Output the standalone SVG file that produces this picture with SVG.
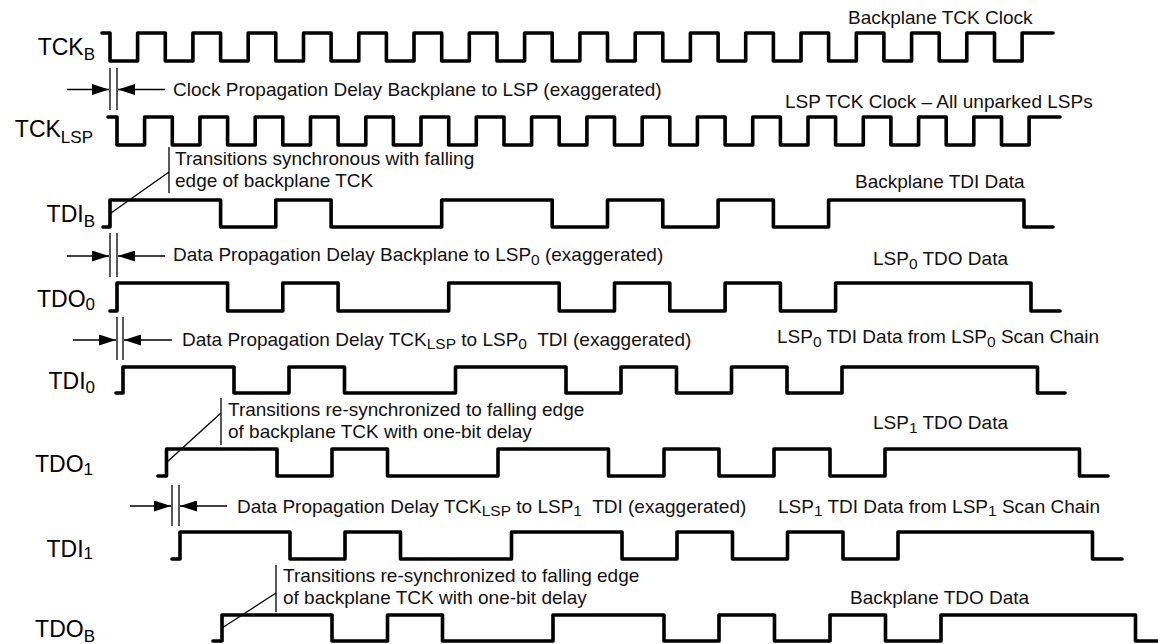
<svg xmlns="http://www.w3.org/2000/svg" width="1158" height="644" viewBox="0 0 1158 644">
<style>
.w{fill:none;stroke:#000;stroke-width:3.6;stroke-linejoin:round;stroke-linecap:round}
.a{fill:none;stroke:#000;stroke-width:1.3}
.lbl{font-family:"Liberation Sans",Arial,sans-serif;font-size:23px;fill:#000;text-anchor:end}
.t{font-family:"Liberation Sans",Arial,sans-serif;font-size:19px;fill:#111}
.s{font-size:15.5px}
.ls{font-size:17px}
</style>
<defs>
<marker id="ah" viewBox="0 0 17 11" refX="17" refY="5.5" markerWidth="17" markerHeight="11" markerUnits="userSpaceOnUse" orient="auto">
<path d="M0,0 L17,5.5 L0,11 Z" fill="#000"/>
</marker>
</defs>
<rect width="1158" height="644" fill="#fff"/>

<g id="tckb">
<path class="w" d="M102,33 H110 V61 H137.6 V33 H165.3 V61 H192.9 V33 H220.6 V61 H248.2 V33 H275.8 V61 H303.5 V33 H331.1 V61 H358.8 V33 H386.4 V61 H414 V33 H441.7 V61 H469.3 V33 H497 V61 H524.6 V33 H552.2 V61 H579.9 V33 H607.5 V61 H635.2 V33 H662.8 V61 H690.4 V33 H718.1 V61 H745.7 V33 H773.4 V61 H801 V33 H828.6 V61 H856.3 V33 H883.9 V61 H911.6 V33 H939.2 V61 H966.8 V33 H994.5 V61 H1022.1 V33 H1053"/>
<text class="lbl" x="95" y="55">TCK<tspan class="ls" dy="5">B</tspan></text>
<text class="t" x="848" y="23.5">Backplane TCK Clock</text>
</g>

<g id="tcklsp">
<path class="w" d="M108,117 H117 V145 H144.6 V117 H172.3 V145 H199.9 V117 H227.6 V145 H255.2 V117 H282.8 V145 H310.5 V117 H338.1 V145 H365.8 V117 H393.4 V145 H421 V117 H448.7 V145 H476.3 V117 H504 V145 H531.6 V117 H559.2 V145 H586.9 V117 H614.5 V145 H642.2 V117 H669.8 V145 H697.4 V117 H725.1 V145 H752.7 V117 H780.4 V145 H808 V117 H835.6 V145 H863.3 V117 H890.9 V145 H918.6 V117 H946.2 V145 H973.8 V117 H1001.5 V145 H1029.1 V117 H1060"/>
<text class="lbl" x="93" y="137">TCK<tspan class="ls" dy="6">LSP</tspan></text>
<text class="t" x="785" y="108">LSP TCK Clock – All unparked LSPs</text>
</g>

<g id="tdib">
<path class="w" d="M103,227 H110 V200 H220.6 V227 H275.8 V200 H331.1 V227 H441.7 V200 H552.2 V227 H607.5 V200 H662.8 V227 H718.1 V200 H773.4 V227 H828.6 V200 H1024 V227 H1053"/>
<text class="lbl" x="95" y="222">TDI<tspan class="ls" dy="4.5">B</tspan></text>
<text class="t" x="855" y="188">Backplane TDI Data</text>
</g>

<g id="tdo0">
<path class="w" d="M110,311 H117 V283 H227.6 V311 H282.8 V283 H338.1 V311 H448.7 V283 H559.2 V311 H614.5 V283 H669.8 V311 H725.1 V283 H780.4 V311 H835.6 V283 H1031 V311 H1060"/>
<text class="lbl" x="95" y="306.5">TDO<tspan class="ls" dy="3.5">0</tspan></text>
<text class="t" x="873" y="265">LSP<tspan class="s" dy="3.5">0</tspan><tspan dy="-3.5"> TDO Data</tspan></text>
</g>

<g id="tdi0">
<path class="w" d="M116,393 H123 V367 H234 V393 H289 V367 H344.5 V393 H455.5 V367 H566 V393 H621 V367 H676.5 V393 H731.5 V367 H787 V393 H842 V367 H1037.5 V393 H1065"/>
<text class="lbl" x="95" y="389">TDI<tspan class="ls" dy="3.5">0</tspan></text>
<text class="t" x="777" y="343">LSP<tspan class="s" dy="3.5">0</tspan><tspan dy="-3.5"> TDI Data from LSP</tspan><tspan class="s" dy="3.5">0</tspan><tspan dy="-3.5"> Scan Chain</tspan></text>
</g>

<g id="tdo1">
<path class="w" d="M158,476 H166.5 V449 H277 V476 H332 V449 H387.5 V476 H498 V449 H608.5 V476 H664 V449 H719 V476 H774 V449 H830 V476 H885 V449 H1079.5 V476 H1108"/>
<text class="lbl" x="93" y="472">TDO<tspan class="ls" dy="3">1</tspan></text>
<text class="t" x="873" y="429">LSP<tspan class="s" dy="3.5">1</tspan><tspan dy="-3.5"> TDO Data</tspan></text>
</g>

<g id="tdi1">
<path class="w" d="M172,559 H180 V532 H290 V559 H345 V532 H400.5 V559 H511.5 V532 H622 V559 H677 V532 H732.5 V559 H787.5 V532 H843 V559 H898 V532 H1092.5 V559 H1122"/>
<text class="lbl" x="93" y="556.5">TDI<tspan class="ls" dy="2">1</tspan></text>
<text class="t" x="778" y="512.5">LSP<tspan class="s" dy="3.5">1</tspan><tspan dy="-3.5"> TDI Data from LSP</tspan><tspan class="s" dy="3.5">1</tspan><tspan dy="-3.5"> Scan Chain</tspan></text>
</g>

<g id="tdob">
<path class="w" d="M213,641 H222 V615 H332 V641 H387.5 V615 H442.5 V641 H553 V615 H664 V641 H719 V615 H774.5 V641 H830 V615 H885.5 V641 H941 V615 H1135.5 V641 H1160"/>
<text class="lbl" x="95" y="636.5">TDO<tspan class="ls" dy="5">B</tspan></text>
<text class="t" x="850" y="604">Backplane TDO Data</text>
</g>

<g id="connectors">
<path class="a" d="M110,68 V110 M117,68 V110"/>
<path class="a" d="M67,89.5 H109" marker-end="url(#ah)"/>
<path class="a" d="M165,89.5 H118" marker-end="url(#ah)"/>
<text class="t" x="173" y="95.5">Clock Propagation Delay Backplane to LSP (exaggerated)</text>
<path class="a" d="M169,147 V193 M169,172 L111,213"/>
<text class="t" x="175" y="165">Transitions synchronous with falling</text>
<text class="t" x="175" y="187">edge of backplane TCK</text>
<path class="a" d="M110,233 V277 M117,233 V277"/>
<path class="a" d="M67,256 H109" marker-end="url(#ah)"/>
<path class="a" d="M165,256 H118" marker-end="url(#ah)"/>
<text class="t" x="173" y="261">Data Propagation Delay Backplane to LSP<tspan class="s" dy="3.5">0</tspan><tspan dy="-3.5"> (exaggerated)</tspan></text>
<path class="a" d="M117,317 V360 M123,317 V360"/>
<path class="a" d="M73,340 H116" marker-end="url(#ah)"/>
<path class="a" d="M172,340 H124" marker-end="url(#ah)"/>
<text class="t" x="182" y="345.5" xml:space="preserve">Data Propagation Delay TCK<tspan class="s" dy="3.5">LSP</tspan><tspan dy="-3.5"> to LSP</tspan><tspan class="s" dy="3.5">0</tspan><tspan dy="-3.5">  TDI (exaggerated)</tspan></text>
<path class="a" d="M221,398 V445 M221,413 L167,462"/>
<text class="t" x="228" y="416">Transitions re-synchronized to falling edge</text>
<text class="t" x="228" y="438">of backplane TCK with one-bit delay</text>
<path class="a" d="M172,485 V526 M179,485 V526"/>
<path class="a" d="M130,506 H171" marker-end="url(#ah)"/>
<path class="a" d="M227,506 H180" marker-end="url(#ah)"/>
<text class="t" x="237" y="512.5" xml:space="preserve">Data Propagation Delay TCK<tspan class="s" dy="3.5">LSP</tspan><tspan dy="-3.5"> to LSP</tspan><tspan class="s" dy="3.5">1</tspan><tspan dy="-3.5">  TDI (exaggerated)</tspan></text>
<path class="a" d="M276,565 V612 M276,593 L222,628"/>
<text class="t" x="283" y="582">Transitions re-synchronized to falling edge</text>
<text class="t" x="283" y="604">of backplane TCK with one-bit delay</text>
</g>
</svg>
